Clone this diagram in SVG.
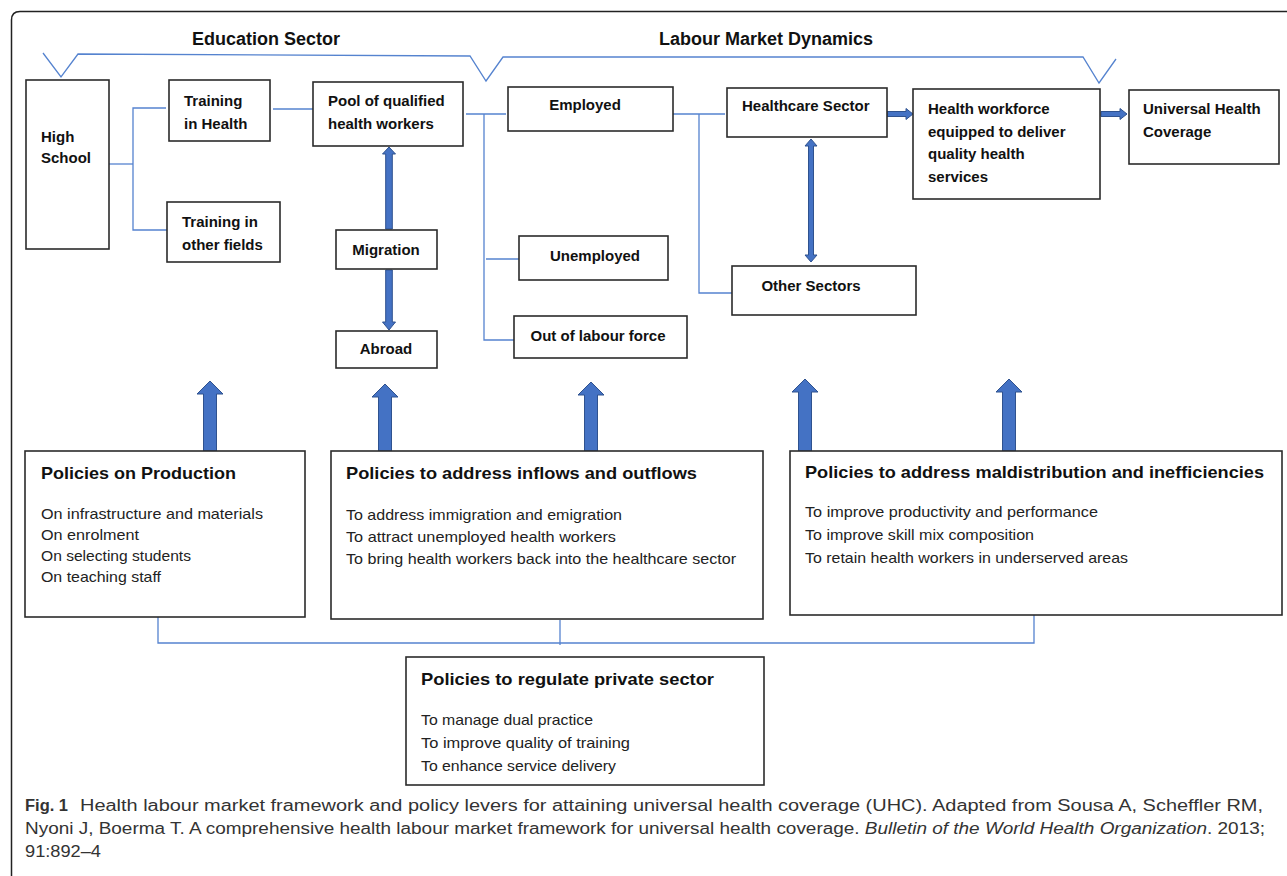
<svg xmlns="http://www.w3.org/2000/svg" width="1287" height="876" viewBox="0 0 1287 876">
<style>
.bx{fill:#fff;stroke:#2b2b2b;stroke-width:1.6}
.nl{font-family:"Liberation Sans",Arial,sans-serif;font-weight:bold;font-size:15px;fill:#111}
.hd{font-family:"Liberation Sans",Arial,sans-serif;font-weight:bold;font-size:18px;fill:#111}
.pt{font-family:"Liberation Sans",Arial,sans-serif;font-weight:bold;font-size:17px;fill:#111}
.pi{font-family:"Liberation Sans",Arial,sans-serif;font-size:15px;fill:#222}
.cap{font-family:"Liberation Sans",Arial,sans-serif;font-size:16px;fill:#333}
.ln{fill:none;stroke:#5583cf;stroke-width:1.3}
.ba{fill:#4472C4;stroke:#2F528F;stroke-width:1}
</style>
<rect width="1287" height="876" fill="#fff"/>
<path d="M1290 11.5 H20 Q11.5 11.5 11.5 20 V880" fill="none" stroke="#222" stroke-width="1.5"/>

<g id="headers">
<text class="hd" x="266" y="45" text-anchor="middle">Education Sector</text>
<text class="hd" x="766" y="45" text-anchor="middle">Labour Market Dynamics</text>
</g>

<g id="connectors">
<polyline class="ln" points="43,53 61,77 78,54 470,56 486,81 503,57 1083,57 1099,83 1116,59"/>
<polyline class="ln" points="109,164 133,164"/>
<polyline class="ln" points="166,108 133,108 133,230 167,230"/>
<polyline class="ln" points="273,109 313,109"/>
<polyline class="ln" points="466,114 506,114"/>
<polyline class="ln" points="484,114 484,340 514,340"/>
<polyline class="ln" points="486,259 519,259"/>
<polyline class="ln" points="673,114 725,114"/>
<polyline class="ln" points="699,114 699,293 732,293"/>
<polyline class="ln" points="158,617 158,643 1034,643 1034,615"/>
<polyline class="ln" points="560,620 560,645"/>
<polygon class="ba" points="385.7,229 385.7,154 382.5,154 389,147 395.5,154 392.3,154 392.3,229"/>
<polygon class="ba" points="385.7,270 385.7,322 382.5,322 389,330 395.5,322 392.3,322 392.3,270"/>
<polygon class="ba" points="811,139 817,146 813.5,146 813.5,255 817,255 811,262 805,255 808.5,255 808.5,146 805,146"/>
<polygon class="ba" points="887,111.5 906,111.5 906,108.5 913,114 906,119.5 906,116.5 887,116.5"/>
<polygon class="ba" points="1101,111.5 1120,111.5 1120,108.5 1127,114 1120,119.5 1120,116.5 1101,116.5"/>
<polygon class="ba" points="203.5,451 203.5,394 197,394 210,381 223,394 216.5,394 216.5,451"/>
<polygon class="ba" points="378.5,451 378.5,397 372,397 385,384 398,397 391.5,397 391.5,451"/>
<polygon class="ba" points="584.5,451 584.5,395 578,395 591,382 604,395 597.5,395 597.5,451"/>
<polygon class="ba" points="798.5,451 798.5,392 792,392 805,379 818,392 811.5,392 811.5,451"/>
<polygon class="ba" points="1002.5,451 1002.5,392 996,392 1009,379 1022,392 1015.5,392 1015.5,451"/>
</g>

<g id="high-school"><rect class="bx" x="26" y="80" width="83" height="169"/>
<text class="nl" x="41" y="142">High</text><text class="nl" x="41" y="163">School</text></g>
<g id="training-health"><rect class="bx" x="169" y="80" width="101" height="61"/>
<text class="nl" x="184" y="106">Training</text><text class="nl" x="184" y="129">in Health</text></g>
<g id="training-other"><rect class="bx" x="167" y="202" width="113" height="60"/>
<text class="nl" x="182" y="227">Training in</text><text class="nl" x="182" y="250">other fields</text></g>
<g id="pool"><rect class="bx" x="313" y="82" width="150" height="64"/>
<text class="nl" x="328" y="106">Pool of qualified</text><text class="nl" x="328" y="129">health workers</text></g>
<g id="migration"><rect class="bx" x="336" y="230" width="101" height="39"/>
<text class="nl" x="386" y="255" text-anchor="middle">Migration</text></g>
<g id="abroad"><rect class="bx" x="336" y="331" width="101" height="37"/>
<text class="nl" x="386" y="354" text-anchor="middle">Abroad</text></g>
<g id="employed"><rect class="bx" x="508" y="87" width="165" height="44"/>
<text class="nl" x="585" y="110" text-anchor="middle">Employed</text></g>
<g id="unemployed"><rect class="bx" x="519" y="236" width="149" height="44"/>
<text class="nl" x="595" y="261" text-anchor="middle">Unemployed</text></g>
<g id="out-labour"><rect class="bx" x="514" y="316" width="173" height="42"/>
<text class="nl" x="598" y="341" text-anchor="middle">Out of labour force</text></g>
<g id="healthcare"><rect class="bx" x="727" y="88" width="160" height="49"/>
<text class="nl" x="742" y="111">Healthcare Sector</text></g>
<g id="other-sectors"><rect class="bx" x="732" y="266" width="184" height="49"/>
<text class="nl" x="811" y="291" text-anchor="middle">Other Sectors</text></g>
<g id="health-workforce"><rect class="bx" x="913" y="89" width="187" height="110"/>
<text class="nl" x="928" y="114">Health workforce</text><text class="nl" x="928" y="136.5">equipped to deliver</text>
<text class="nl" x="928" y="159">quality health</text><text class="nl" x="928" y="181.5">services</text></g>
<g id="uhc"><rect class="bx" x="1129" y="90" width="150" height="74"/>
<text class="nl" x="1143" y="114">Universal Health</text><text class="nl" x="1143" y="137">Coverage</text></g>

<g id="policy-production"><rect class="bx" x="25" y="451" width="280" height="166"/>
<text class="pt" x="41" y="479" textLength="195" lengthAdjust="spacingAndGlyphs">Policies on Production</text>
<text class="pi" x="41" y="519" textLength="222" lengthAdjust="spacingAndGlyphs">On infrastructure and materials</text>
<text class="pi" x="41" y="540" textLength="98" lengthAdjust="spacingAndGlyphs">On enrolment</text>
<text class="pi" x="41" y="561" textLength="150" lengthAdjust="spacingAndGlyphs">On selecting students</text>
<text class="pi" x="41" y="582" textLength="120" lengthAdjust="spacingAndGlyphs">On teaching staff</text></g>
<g id="policy-flows"><rect class="bx" x="331" y="451" width="432" height="168"/>
<text class="pt" x="346" y="479" textLength="351" lengthAdjust="spacingAndGlyphs">Policies to address inflows and outflows</text>
<text class="pi" x="346" y="520" textLength="276" lengthAdjust="spacingAndGlyphs">To address immigration and emigration</text>
<text class="pi" x="346" y="542" textLength="270" lengthAdjust="spacingAndGlyphs">To attract unemployed health workers</text>
<text class="pi" x="346" y="564" textLength="390" lengthAdjust="spacingAndGlyphs">To bring health workers back into the healthcare sector</text></g>
<g id="policy-maldistribution"><rect class="bx" x="790" y="451" width="492" height="164"/>
<text class="pt" x="805" y="478" textLength="459" lengthAdjust="spacingAndGlyphs">Policies to address maldistribution and inefficiencies</text>
<text class="pi" x="805" y="517" textLength="293" lengthAdjust="spacingAndGlyphs">To improve productivity and performance</text>
<text class="pi" x="805" y="540" textLength="229" lengthAdjust="spacingAndGlyphs">To improve skill mix composition</text>
<text class="pi" x="805" y="563" textLength="323" lengthAdjust="spacingAndGlyphs">To retain health workers in underserved areas</text></g>
<g id="policy-private"><rect class="bx" x="406" y="657" width="358" height="128"/>
<text class="pt" x="421" y="685" textLength="293" lengthAdjust="spacingAndGlyphs">Policies to regulate private sector</text>
<text class="pi" x="421" y="725" textLength="172" lengthAdjust="spacingAndGlyphs">To manage dual practice</text>
<text class="pi" x="421" y="748" textLength="209" lengthAdjust="spacingAndGlyphs">To improve quality of training</text>
<text class="pi" x="421" y="771" textLength="195" lengthAdjust="spacingAndGlyphs">To enhance service delivery</text></g>

<g id="caption">
<text class="cap" x="25" y="811" font-weight="bold" fill="#222" textLength="43" lengthAdjust="spacingAndGlyphs">Fig. 1</text>
<text class="cap" x="80" y="811" textLength="1183" lengthAdjust="spacingAndGlyphs">Health labour market framework and policy levers for attaining universal health coverage (UHC).  Adapted from Sousa A, Scheffler RM,</text>
<text class="cap" x="25" y="834" textLength="1240" lengthAdjust="spacingAndGlyphs">Nyoni J, Boerma T. A comprehensive health labour market framework for universal health coverage. <tspan font-style="italic">Bulletin of the World Health Organization</tspan>. 2013;</text>
<text class="cap" x="25" y="857" textLength="76" lengthAdjust="spacingAndGlyphs">91:892–4</text>
</g>
</svg>
